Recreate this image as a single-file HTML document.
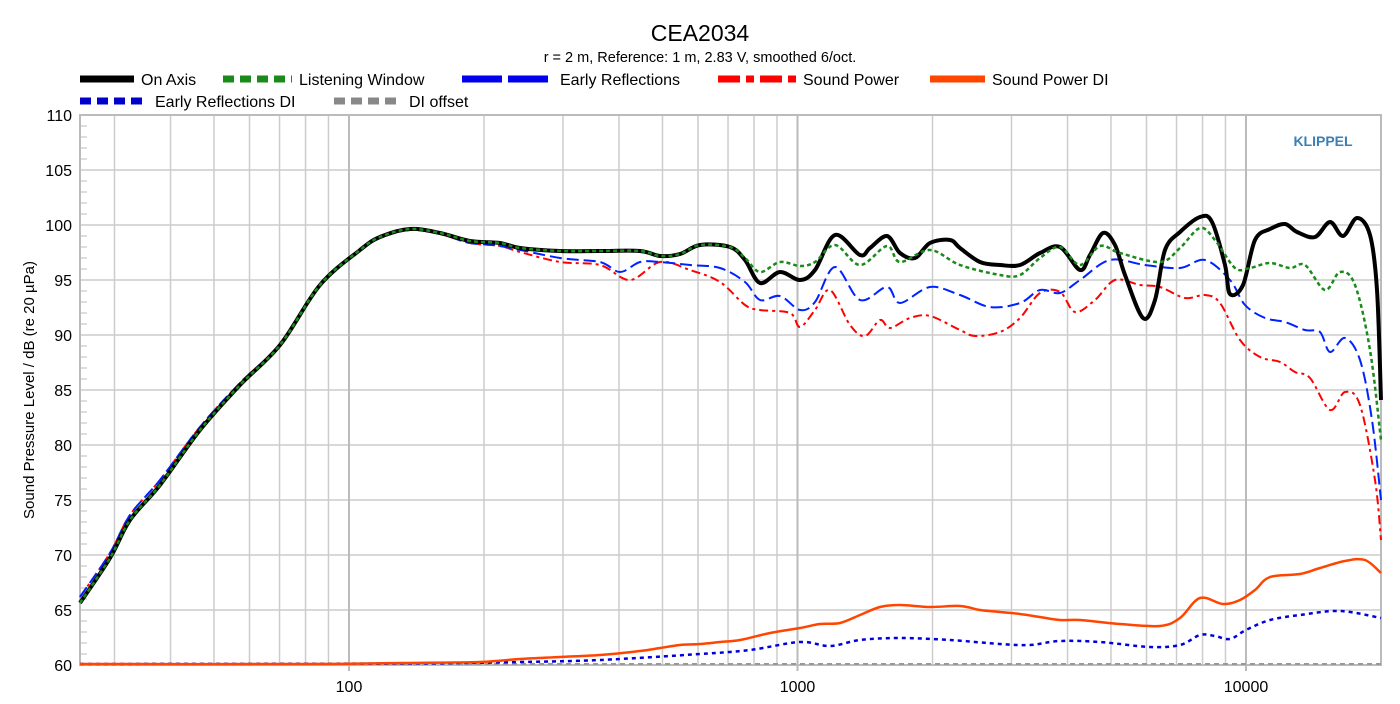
<!DOCTYPE html>
<html><head><meta charset="utf-8"><style>
body{margin:0;background:#fff;width:1400px;height:699px;overflow:hidden}
svg text{font-family:"Liberation Sans",Arial,sans-serif}
</style></head><body>
<svg id="s" width="1400" height="699" xmlns="http://www.w3.org/2000/svg">
<text x="700" y="41" font-size="23" text-anchor="middle">CEA2034</text>
<text x="700" y="62" font-size="14.5" text-anchor="middle">r = 2 m,  Reference: 1 m, 2.83 V, smoothed 6/oct.</text>
<g font-size="16">
<line x1="80" y1="79" x2="134" y2="79" stroke="#000" stroke-width="7"/><text x="141" y="85">On Axis</text>
<line x1="223" y1="79" x2="292" y2="79" stroke="#1a8a1a" stroke-width="7" stroke-dasharray="11,6"/><text x="299" y="85">Listening Window</text>
<line x1="462" y1="79" x2="552" y2="79" stroke="#0000ee" stroke-width="7" stroke-dasharray="40,6"/><text x="560" y="85">Early Reflections</text>
<line x1="718" y1="79" x2="796" y2="79" stroke="#ff0000" stroke-width="7" stroke-dasharray="22,6,8,6"/><text x="803" y="85">Sound Power</text>
<line x1="930" y1="79" x2="985" y2="79" stroke="#ff4500" stroke-width="7"/><text x="992" y="85">Sound Power DI</text>
<line x1="80" y1="101" x2="148" y2="101" stroke="#0000cc" stroke-width="7" stroke-dasharray="11,6"/><text x="155" y="107">Early Reflections DI</text>
<line x1="334" y1="101" x2="402" y2="101" stroke="#888" stroke-width="7" stroke-dasharray="11,6"/><text x="409" y="107">DI offset</text>
</g>
<g id="grid"></g>
<text x="1323" y="146" font-size="14" font-weight="bold" fill="#3a7fb5" text-anchor="middle">KLIPPEL</text>
<text transform="translate(34,390) rotate(-90)" font-size="15" text-anchor="middle">Sound Pressure Level / dB (re 20 µPa)</text>
<g id="curves" fill="none" stroke-linejoin="round"></g>
</svg>
<script>
var NS="http://www.w3.org/2000/svg",g=document.getElementById('grid'),c=document.getElementById('curves');
function el(p,a,t){var e=document.createElementNS(NS,t);for(var k in a)e.setAttribute(k,a[k]);p.appendChild(e);return e;}
var L=80,R=1381,T=115,B=665;
function fx(f){return 349+448.5*Math.log10(f/100);}
for(var d=60;d<=110;d+=5){var y=B-(d-60)*11;el(g,{x1:L,y1:y,x2:R,y2:y,stroke:'#ccc','stroke-width':1.5},'line');
var t=el(g,{x:72,y:y+6,'font-size':16,'text-anchor':'end'},'text');t.textContent=d;
if(d<110)for(var m=1;m<5;m++){var yy=y-m*11;el(g,{x1:L,y1:yy,x2:L+7,y2:yy,stroke:'#bbb','stroke-width':1},'line');}}
var fs=[];for(var dec=10;dec<=10000;dec*=10)for(var k=1;k<10;k++)fs.push(dec*k);fs.push(20000);
fs.forEach(function(f){var x=fx(f);if(x<L+2||x>R+1)return;var main=(f==100||f==1000||f==10000);
el(g,{x1:x,y1:T,x2:x,y2:B+(main?6:0),stroke:main?'#bbb':'#ccc','stroke-width':main?2:1.5},'line');
if(main){var t=el(g,{x:x,y:B+27,'font-size':16,'text-anchor':'middle'},'text');t.textContent=f;}});
el(g,{x:L,y:T,width:R-L,height:B-T,fill:'none',stroke:'#bbb','stroke-width':2},'rect');
function path(p){var s='M'+p[0][0]+','+p[0][1];for(var i=0;i<p.length-1;i++){var p0=p[i-1]||p[i],p1=p[i],p2=p[i+1],p3=p[i+2]||p2;
s+=' C'+(p1[0]+(p2[0]-p0[0])/6)+','+(p1[1]+(p2[1]-p0[1])/6)+' '+(p2[0]-(p3[0]-p1[0])/6)+','+(p2[1]-(p3[1]-p1[1])/6)+' '+p2[0]+','+p2[1];}return s;}
var low=[[80,603],[110,558],[130,520],[160,485],[200,430],[240,385],[280,345],[320,285],[360,250],[380,237],[410,229],[440,233],[470,241],[500,243],[520,248],[560,251],[600,251],[640,251],[660,256],[680,254],[700,245],[730,247]];
var lowR=[[80,597],[110,553],[130,515],[160,480],[200,427],[240,383],[280,344],[320,285],[360,251],[380,238],[410,230],[440,234],[470,243],[500,246],[520,252]];
var black=low.concat([[745,260],[760,283],[780,272],[800,280],[815,270],[835,235],[860,255],[870,248],[887,236],[900,253],[915,258],[930,243],[950,240],[960,248],[980,262],[1000,265],[1020,265],[1040,253],[1060,247],[1080,270],[1090,255],[1103,233],[1115,245],[1125,275],[1143,318],[1155,300],[1165,250],[1180,232],[1200,217],[1212,222],[1225,265],[1230,294],[1243,285],[1255,240],[1270,229],[1285,224],[1297,232],[1315,237],[1330,222],[1343,236],[1357,218],[1370,235],[1377,290],[1381,400]]);
var green=low.concat([[745,258],[760,272],[780,262],[800,266],[815,262],[835,245],[860,265],[887,246],[900,262],[930,250],[960,265],[1000,275],[1020,275],[1040,258],[1060,247],[1080,265],[1100,246],[1120,253],[1160,262],[1180,248],[1200,228],[1215,240],[1235,268],[1250,268],[1270,263],[1290,268],[1305,265],[1325,290],[1340,272],[1355,285],[1370,350],[1381,440]]);
var blue=lowR.slice(0,-1).concat([[560,258],[600,262],[620,272],[640,262],[660,262],[690,265],[720,268],[745,282],[760,300],[780,296],[800,310],[815,302],[835,267],[860,300],[887,287],[900,303],[930,287],[960,295],[990,307],[1020,303],[1040,290],[1060,293],[1080,280],[1110,260],[1145,265],[1180,268],[1205,260],[1230,280],[1245,305],[1265,318],[1285,322],[1305,330],[1320,332],[1330,352],[1345,338],[1360,360],[1372,420],[1381,500]]);
var red=lowR.concat([[560,262],[600,265],[630,280],[660,262],[690,270],[720,282],[745,305],[760,310],[790,313],[800,327],[815,310],[830,290],[850,325],[865,336],[880,320],[890,328],[910,318],[930,316],[960,330],[975,336],[1000,332],[1020,318],[1040,293],[1060,292],[1075,312],[1095,300],[1115,280],[1140,285],[1160,287],[1185,298],[1205,295],[1220,303],[1240,340],[1260,357],[1280,362],[1295,372],[1310,378],[1330,410],[1345,392],[1360,405],[1375,480],[1381,540]]);
var orange=[[80,664],[300,664],[400,663],[480,662],[520,659],[560,657],[600,655],[640,651],[660,648],[680,645],[700,644],[720,642],[740,640],[770,633],[800,628],[820,624],[840,623],[860,615],[880,607],[900,605],[930,607],[960,606],[980,610],[1000,612],[1020,614],[1040,617],[1060,620],[1080,620],[1120,624],[1160,626],[1180,618],[1200,598],[1223,604],[1240,600],[1255,590],[1270,577],[1300,574],[1320,568],[1345,561],[1365,560],[1381,573]];
var erdi=[[80,664],[400,663.5],[520,662],[600,660],[700,654],[750,650],[800,642],[830,646],[860,640],[900,638],[950,640],[1000,644],[1030,645],[1060,641],[1100,642],[1150,647],[1180,645],[1200,635],[1215,636],[1230,639],[1246,630],[1270,620],[1300,615],[1340,611],[1381,618]];
el(c,{d:'M80,664 L1381,664',stroke:'#999','stroke-width':2,'stroke-dasharray':'5,4'},'path');
el(c,{d:path(erdi),stroke:'#0000dd','stroke-width':2.5,'stroke-dasharray':'4,4'},'path');
el(c,{d:path(orange),stroke:'#ff4500','stroke-width':2.5},'path');
el(c,{d:path(red),stroke:'#ff0000','stroke-width':2,'stroke-dasharray':'9,4,3,4'},'path');
el(c,{d:path(blue),stroke:'#0022ff','stroke-width':2,'stroke-dasharray':'12,5'},'path');
el(c,{d:path(black),stroke:'#000','stroke-width':4},'path');
el(c,{d:path(green),stroke:'#1a8a1a','stroke-width':2.5,'stroke-dasharray':'4,3'},'path');
</script>
</body></html>
